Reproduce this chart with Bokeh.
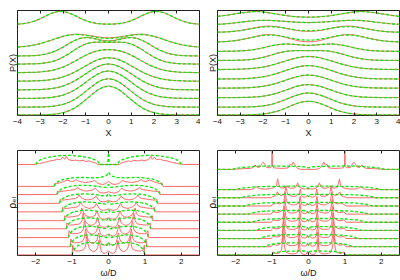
from bokeh.plotting import figure
from bokeh.layouts import column, row
from bokeh.models import Range1d, FixedTicker, LinearAxis
from bokeh.embed import file_html
from bokeh.resources import INLINE

# ---------------- data ----------------
# curves are symmetric in x; values below are read for x >= 0 and mirrored.
# heights are in frame units (frame height = 107.3), offsets stack the curves.

ticks_top = [-4, -3, -2, -1, 0, 1, 2, 3, 4]
ticks_bottom = [-2, -1, 0, 1, 2]

x_top_half = [0.0, 0.25, 0.5, 0.75, 1.0, 1.25, 1.5, 1.75, 2.0, 2.25, 2.5, 2.75, 3.0, 3.25, 3.5, 3.75, 4.0]

# top-left P(X), bottom -> top
tl_offsets = [0.6, 8.6, 17.5, 26.2, 35.1, 43.8, 52.6, 60.8, 69.5, 93.0]
tl_red = [
    [29.5, 28.3, 25.1, 20.5, 15.5, 10.8, 6.9, 4.1, 2.2, 1.1, 0.5, 0.2, 0.1, 0, 0, 0, 0],
    [29.0, 28.0, 25.0, 20.8, 16.1, 11.5, 7.7, 4.8, 2.7, 1.5, 0.7, 0.3, 0.1, 0.1, 0, 0, 0],
    [28.0, 27.1, 24.5, 20.8, 16.5, 12.2, 8.5, 5.5, 3.3, 1.9, 1.0, 0.5, 0.2, 0.1, 0, 0, 0],
    [26.5, 25.7, 23.5, 20.2, 16.4, 12.5, 9.0, 6.1, 3.9, 2.3, 1.3, 0.7, 0.3, 0.2, 0.1, 0, 0],
    [24.0, 23.4, 21.6, 18.9, 15.6, 12.3, 9.1, 6.5, 4.3, 2.7, 1.6, 0.9, 0.5, 0.3, 0.1, 0.1, 0],
    [23.5, 23.2, 22.2, 20.4, 17.8, 14.7, 11.4, 8.3, 5.7, 3.7, 2.2, 1.3, 0.7, 0.3, 0.2, 0.1, 0],
    [22.2, 22.3, 22.4, 22.0, 20.5, 17.8, 14.3, 10.5, 7.0, 4.2, 2.3, 1.2, 0.5, 0.2, 0.1, 0, 0],
    [15.5, 16.0, 17.3, 18.6, 19.0, 18.1, 15.8, 12.6, 9.1, 6.0, 3.6, 1.9, 1.0, 0.4, 0.2, 0.1, 0],
    [9.9, 10.2, 10.9, 11.9, 12.8, 13.5, 13.6, 12.8, 11.4, 9.6, 7.6, 5.7, 4.0, 2.6, 1.6, 0.9, 0.5],
    [0.3, 0.5, 1.0, 2.1, 3.9, 6.5, 9.4, 11.9, 13.4, 13.2, 11.5, 8.8, 5.9, 3.5, 1.8, 0.8, 0.3],
]
tl_green = [
    [29.5, 28.3, 25.1, 20.5, 15.5, 10.8, 6.9, 4.1, 2.2, 1.1, 0.5, 0.2, 0.1, 0, 0, 0, 0],
    [29.0, 28.0, 25.0, 20.8, 16.1, 11.5, 7.7, 4.8, 2.7, 1.5, 0.7, 0.3, 0.1, 0.1, 0, 0, 0],
    [28.0, 27.1, 24.5, 20.8, 16.5, 12.2, 8.5, 5.5, 3.3, 1.9, 1.0, 0.5, 0.2, 0.1, 0, 0, 0],
    [26.5, 25.7, 23.5, 20.2, 16.4, 12.5, 9.0, 6.1, 3.9, 2.3, 1.3, 0.7, 0.3, 0.2, 0.1, 0, 0],
    [24.0, 23.4, 21.6, 18.9, 15.6, 12.3, 9.1, 6.5, 4.3, 2.7, 1.6, 0.9, 0.5, 0.3, 0.1, 0.1, 0],
    [23.5, 23.2, 22.2, 20.4, 17.8, 14.7, 11.4, 8.3, 5.7, 3.7, 2.2, 1.3, 0.7, 0.3, 0.2, 0.1, 0],
    [22.2, 22.3, 22.4, 22.0, 20.5, 17.8, 14.3, 10.5, 7.0, 4.2, 2.3, 1.2, 0.5, 0.2, 0.1, 0, 0],
    [15.0, 15.5, 16.9, 18.3, 18.8, 18.0, 15.8, 12.6, 9.1, 6.0, 3.6, 1.9, 1.0, 0.4, 0.2, 0.1, 0],
    [9.2, 9.5, 10.3, 11.5, 12.5, 13.2, 13.3, 12.6, 11.3, 9.6, 7.6, 5.7, 4.0, 2.6, 1.6, 0.9, 0.5],
    [0.3, 0.5, 1.0, 2.1, 3.9, 6.5, 9.4, 11.9, 13.4, 13.2, 11.5, 8.8, 5.9, 3.5, 1.8, 0.8, 0.3],
]

# top-right P(X), bottom -> top
tr_offsets = [0.6, 8.6, 18.3, 28.0, 37.3, 47.0, 56.3, 65.6, 75.0, 85.0, 93.0, 100.0]
tr_red = [
    [14.0, 13.4, 11.8, 9.5, 7.0, 4.7, 3.0, 1.7, 0.9, 0.4, 0.2, 0.1, 0, 0, 0, 0, 0],
    [14.4, 13.9, 12.3, 10.2, 7.8, 5.5, 3.6, 2.2, 1.2, 0.6, 0.3, 0.1, 0.1, 0, 0, 0, 0],
    [13.3, 12.8, 11.6, 9.7, 7.6, 5.6, 3.8, 2.4, 1.4, 0.8, 0.4, 0.2, 0.1, 0, 0, 0, 0],
    [13.3, 12.9, 11.7, 10.0, 8.1, 6.1, 4.3, 2.9, 1.8, 1.1, 0.6, 0.3, 0.1, 0.1, 0, 0, 0],
    [13.7, 13.3, 12.2, 10.6, 8.7, 6.7, 4.9, 3.4, 2.2, 1.4, 0.8, 0.4, 0.2, 0.1, 0.1, 0, 0],
    [13.3, 13.0, 12.0, 10.5, 8.8, 7.0, 5.2, 3.8, 2.5, 1.6, 1.0, 0.6, 0.3, 0.2, 0.1, 0, 0],
    [9.9, 10.0, 10.0, 9.8, 9.2, 8.0, 6.4, 4.7, 3.1, 1.9, 1.0, 0.5, 0.2, 0.1, 0, 0, 0],
    [6.1, 6.3, 6.8, 7.3, 7.5, 7.1, 6.2, 5.0, 3.6, 2.4, 1.4, 0.8, 0.4, 0.2, 0.1, 0, 0],
    [0.3, 0.6, 1.6, 3.2, 4.8, 6.3, 7.3, 7.7, 7.3, 6.2, 4.8, 3.5, 2.3, 1.4, 0.8, 0.4, 0.2],
    [1.0, 1.2, 1.8, 2.9, 4.1, 5.3, 6.1, 6.4, 6.1, 5.2, 4.0, 2.9, 1.9, 1.1, 0.6, 0.3, 0.2],
    [2.0, 2.1, 2.3, 2.7, 3.1, 3.5, 3.9, 4.2, 4.3, 4.1, 3.6, 3.0, 2.3, 1.6, 1.0, 0.5, 0.2],
    [0.5, 0.6, 0.9, 1.4, 2.1, 3.0, 4.0, 5.0, 5.8, 6.3, 6.1, 5.5, 4.7, 3.8, 2.9, 2.0, 1.3],
]
tr_green = [
    [14.0, 13.4, 11.8, 9.5, 7.0, 4.7, 3.0, 1.7, 0.9, 0.4, 0.2, 0.1, 0, 0, 0, 0, 0],
    [14.4, 13.9, 12.3, 10.2, 7.8, 5.5, 3.6, 2.2, 1.2, 0.6, 0.3, 0.1, 0.1, 0, 0, 0, 0],
    [13.3, 12.8, 11.6, 9.7, 7.6, 5.6, 3.8, 2.4, 1.4, 0.8, 0.4, 0.2, 0.1, 0, 0, 0, 0],
    [13.3, 12.9, 11.7, 10.0, 8.1, 6.1, 4.3, 2.9, 1.8, 1.1, 0.6, 0.3, 0.1, 0.1, 0, 0, 0],
    [13.7, 13.3, 12.2, 10.6, 8.7, 6.7, 4.9, 3.4, 2.2, 1.4, 0.8, 0.4, 0.2, 0.1, 0.1, 0, 0],
    [13.3, 13.0, 12.0, 10.5, 8.8, 7.0, 5.2, 3.8, 2.5, 1.6, 1.0, 0.6, 0.3, 0.2, 0.1, 0, 0],
    [9.9, 10.0, 10.0, 9.8, 9.2, 8.0, 6.4, 4.7, 3.1, 1.9, 1.0, 0.5, 0.2, 0.1, 0, 0, 0],
    [6.1, 6.3, 6.8, 7.3, 7.5, 7.1, 6.2, 5.0, 3.6, 2.4, 1.4, 0.8, 0.4, 0.2, 0.1, 0, 0],
    [2.0, 2.2, 2.9, 4.0, 5.2, 6.4, 7.1, 7.3, 6.9, 5.9, 4.7, 3.4, 2.3, 1.4, 0.8, 0.4, 0.2],
    [1.6, 1.8, 2.3, 3.2, 4.2, 5.1, 5.6, 5.8, 5.5, 4.7, 3.7, 2.7, 1.8, 1.1, 0.6, 0.3, 0.2],
    [2.0, 2.1, 2.3, 2.7, 3.1, 3.5, 3.9, 4.2, 4.3, 4.1, 3.6, 3.0, 2.3, 1.6, 1.0, 0.5, 0.2],
    [0.5, 0.6, 0.9, 1.4, 2.1, 3.0, 4.0, 5.0, 5.8, 6.3, 6.1, 5.5, 4.7, 3.8, 2.9, 2.0, 1.3],
]

# bottom-left rho_el(omega/D), bottom -> top, (x, y) for omega >= 0
bl_offsets = [0.6, 9.0, 18.3, 27.3, 35.6, 44.6, 53.3, 62.3, 70.6, 93.0]
bl_red_x = [
    [0, .05, .1, .16, .2, .23, .26, .3, .36, .42, .48, .53, .57, .6, .63, .68, .75, .82, .9, .95, .985, 1.0, 2.5],
    [0, .053, .105, .168, .21, .242, .273, .315, .378, .441, .504, .557, .599, .63, .662, .714, .788, .861, .945, .998, 1.034, 1.05, 2.5],
    [0, .055, .11, .176, .22, .253, .286, .33, .396, .462, .528, .583, .627, .66, .693, .748, .825, .902, .99, 1.045, 1.084, 1.1, 2.5],
    [0, .058, .116, .186, .232, .267, .302, .348, .418, .487, .557, .615, .661, .696, .731, .789, .87, .951, 1.044, 1.102, 1.143, 1.16, 2.5],
    [0, .061, .122, .195, .244, .281, .317, .366, .439, .512, .586, .647, .695, .732, .769, .83, .915, 1.0, 1.098, 1.159, 1.202, 1.22, 2.5],
    [0, .064, .128, .205, .256, .294, .333, .384, .461, .538, .614, .678, .73, .768, .806, .87, .96, 1.05, 1.152, 1.216, 1.26, 1.28, 2.5],
    [0, .068, .135, .216, .27, .31, .351, .405, .486, .567, .648, .716, .77, .81, .851, .918, 1.013, 1.107, 1.215, 1.283, 1.33, 1.35, 2.5],
    [0, .071, .142, .227, .284, .327, .369, .426, .511, .596, .682, .753, .809, .852, .895, .966, 1.065, 1.164, 1.278, 1.349, 1.399, 1.42, 2.5],
    [0, .075, .15, .24, .3, .345, .39, .45, .54, .63, .72, .795, .855, .9, .945, 1.02, 1.125, 1.23, 1.35, 1.425, 1.478, 1.5, 2.5],
    [0, .3, .35, .45, .55, .62, .7, .8, .9, 1.0, 1.1, 1.16, 1.2, 1.26, 1.32, 1.42, 1.5, 1.6, 1.7, 1.8, 1.9, 2.0, 2.05, 2.5],
]
bl_red_y = [
    [4, 2.5, 1.5, 2, 4, 9, 15, 7, 4, 3.5, 4.5, 7, 12, 19, 9, 5.5, 4.5, 4, 4, 5, 10, 0, 0],
    [3.5, 2.5, 1.5, 2, 4, 8.5, 14, 7, 4, 3.5, 4.5, 7, 12, 18, 9, 5.5, 4.5, 4, 4, 4.5, 8, 0, 0],
    [3.5, 2.5, 1.5, 2, 4, 8, 13, 6.5, 4, 3.5, 4.5, 7, 11, 17, 8.5, 5.5, 4.5, 4, 4, 4.5, 7, 0, 0],
    [3, 2, 1.5, 2, 3.5, 7, 12, 6, 4, 3.5, 4.5, 6.5, 10, 16, 8, 5, 4.5, 4, 3.8, 4, 6, 0, 0],
    [3, 2, 1.5, 2, 3.5, 6.5, 10, 5.5, 4, 3.5, 4.5, 6, 9, 13, 7, 5, 4.5, 4, 3.6, 3.8, 5, 0, 0],
    [3, 2, 1.5, 2, 3.5, 6, 8.5, 5, 4, 3.5, 4.5, 5.5, 7.5, 10, 6.5, 5, 4.5, 4, 3.5, 3.5, 4.5, 0, 0],
    [3, 2, 1.5, 2, 3.5, 5.5, 7.5, 5, 4, 3.5, 4, 5, 6.5, 8.5, 6, 5, 4.5, 4, 3.5, 3.3, 4, 0, 0],
    [3, 2, 1.5, 2, 3.2, 5, 6.5, 4.8, 4, 3.5, 4, 4.8, 6, 7.5, 5.5, 4.8, 4.3, 3.8, 3.3, 3, 3.5, 0, 0],
    [5, 3, 2, 2.5, 3.5, 5, 6, 5, 4.5, 4, 4.5, 5, 6, 7, 5.5, 5, 6.5, 5, 3.5, 3, 3, 0, 0],
    [0, 0, 1.5, 2.5, 3.8, 3.0, 4.2, 3.6, 4.5, 4.0, 5.0, 8.3, 5.2, 7.5, 4.8, 5.5, 4.2, 3.8, 2.6, 1.8, 1.0, 0.3, 0, 0],
]
bl_green_x = [
    [0, .04, .15, .3, .5, .65, .8, .9, .96, 1.0],
    [0, .042, .158, .315, .525, .683, .84, .945, 1.008, 1.05],
    [0, .044, .165, .33, .55, .715, .88, .99, 1.056, 1.1],
    [0, .046, .174, .348, .58, .754, .928, 1.044, 1.114, 1.16],
    [0, .049, .183, .366, .61, .793, .976, 1.098, 1.171, 1.22],
    [0, .051, .192, .384, .64, .832, 1.024, 1.152, 1.229, 1.28],
    [0, .054, .203, .405, .675, .878, 1.08, 1.215, 1.296, 1.35],
    [0, .057, .213, .426, .71, .923, 1.136, 1.278, 1.363, 1.42],
    [0, .06, .225, .45, .75, .975, 1.2, 1.35, 1.44, 1.5],
    [0, .02, .24, .3, .4, .55, .75, 1.0, 1.12, 1.3, 1.5, 1.7, 1.85, 1.95, 2.0],
]
bl_green_y = [
    [13, 9.8, 10.4, 12, 12.6, 12.1, 10.4, 7.8, 4.9, 0],
    [12.5, 9.4, 10, 11.5, 12.1, 11.6, 10, 7.5, 4.8, 0],
    [12, 9, 9.6, 11, 11.6, 11.2, 9.6, 7.2, 4.6, 0],
    [11.5, 8.6, 9.2, 10.6, 11.2, 10.7, 9.2, 6.9, 4.4, 0],
    [11, 8.3, 8.8, 10.1, 10.7, 10.2, 8.8, 6.6, 4.2, 0],
    [10.5, 7.9, 8.4, 9.7, 10.2, 9.8, 8.4, 6.3, 4.0, 0],
    [10, 7.5, 8, 9.2, 9.7, 9.3, 8, 6, 3.8, 0],
    [10.5, 7.4, 7.8, 9, 9.5, 9.1, 7.8, 5.9, 3.7, 0],
    [14.5, 11, 9, 8.8, 9.2, 8.8, 7.6, 5.7, 3.6, 0],
    [17, 0, 0, 3.4, 5.3, 7.1, 8.4, 9.2, 9.3, 9.1, 8.4, 7.0, 5.2, 3.1, 0],
]

# bottom-right rho_el(omega/D), bottom -> top
br_offsets = [0.6, 9.0, 17.3, 25.6, 34.0, 42.3, 50.6, 59.0, 67.3, 88.0]
br_red_x = [
    [0, .03, .06, .1, .18, .23, .26, .29, .35, .45, .55, .62, .66, .7, .74, .8, .9, .97, 1.0, 1.03, 2.5],
    [0, .03, .06, .1, .18, .225, .255, .285, .35, .45, .55, .615, .655, .69, .73, .8, .9, .97, 1.0, 1.03, 2.5],
    [0, .03, .06, .1, .18, .22, .25, .28, .35, .45, .55, .61, .645, .68, .72, .8, .9, .97, 1.0, 1.03, 2.5],
    [0, .03, .06, .1, .18, .215, .245, .275, .35, .45, .55, .6, .635, .67, .71, .8, .9, .97, 1.0, 1.03, 2.5],
    [0, .03, .06, .1, .17, .21, .24, .27, .35, .45, .55, .59, .625, .66, .7, .8, .9, .97, 1.0, 1.03, 2.5],
    [0, .03, .06, .1, .17, .205, .235, .265, .35, .45, .55, .58, .615, .65, .69, .8, .9, .97, 1.0, 1.03, 2.5],
    [0, .03, .06, .1, .165, .2, .23, .26, .35, .45, .5, .57, .605, .64, .68, .8, .88, .95, 1.0, 1.03, 2.5],
    [0, .03, .06, .1, .16, .2, .225, .255, .3, .35, .45, .55, .585, .62, .66, .75, .82, .86, .9, 1.0, 1.03, 2.5],
    [0, .05, .1, .2, .26, .3, .34, .4, .5, .56, .6, .64, .7, .78, .82, .85, .88, .95, 1.05, 1.2, 1.35, 1.45, 1.5, 1.6, 2.5],
    [0, .2, .3, .35, .38, .42, .46, .5, .56, .7, .85, .95, .99, 1.0, 1.01, 1.05, 1.15, 1.2, 1.24, 1.28, 1.33, 1.4, 1.47, 1.52, 1.6, 1.75, 1.9, 2.1, 2.5],
]
br_red_y = [
    [1, 3.5, 1, .5, 1, 4, 16, 3, 1.5, 1, 1.5, 3, 8, 22, 5, 2, 1.5, 3, 1, 0, 0],
    [1, 3.5, 1, .5, 1, 4, 15, 3, 1.5, 1, 1.5, 3, 8, 20, 5, 2, 1.5, 2.5, 1, 0, 0],
    [1, 3.2, 1, .5, 1, 4, 14, 3, 1.5, 1, 1.5, 3, 7, 19, 5, 2, 1.5, 2.5, 1, 0, 0],
    [1, 3, 1, .5, 1, 4, 13, 3, 1.5, 1, 1.5, 3, 7, 18, 5, 2, 1.5, 2.5, 1, 0, 0],
    [1, 3, 1, .5, 1, 3.5, 12, 3, 1.5, 1, 1.5, 3, 6.5, 16, 4.5, 2, 1.5, 2.5, 1, 0, 0],
    [1, 3, 1, .5, 1, 3.5, 11, 3, 1.5, 1, 1.5, 3, 6, 15, 4.5, 2, 1.5, 2.5, 1, 0, 0],
    [1, 2.8, 1, .5, 1, 3, 10, 3, 1.5, 1, 2, 3, 5.5, 14, 4, 2, 3, 2, 1, 0, 0],
    [1, 2.5, 1, .5, 1, 3, 9, 3, 4, 1.5, 1.5, 3, 5, 12, 4, 2, 4, 6, 2, 1, 0, 0],
    [.5, 1, .5, 1.5, 3, 7, 3, 1.5, 1.5, 2.5, 4, 2.5, 1.5, 2, 6, 11, 4, 2, 1, .5, 1, 3, 1, 0, 0],
    [0, 0, .8, 3, 5, 7.5, 4, 5.5, 1.5, 1, 1.2, 1.5, 3, 30, 3, 1.5, 2, 5, 7.5, 6, 2.5, 2, 4.5, 2, 1, .8, .5, 0, 0],
]
br_green_x = [
    [0, .032, .105, .315, .525, .735, .893, .998, 1.05, 2.5],
    [0, .036, .12, .36, .6, .84, 1.02, 1.14, 1.2, 2.5],
    [0, .041, .135, .405, .675, .945, 1.148, 1.283, 1.35, 2.5],
    [0, .044, .145, .435, .725, 1.015, 1.233, 1.378, 1.45, 2.5],
    [0, .047, .155, .465, .775, 1.085, 1.318, 1.473, 1.55, 2.5],
    [0, .05, .165, .495, .825, 1.155, 1.403, 1.568, 1.65, 2.5],
    [0, .053, .175, .525, .875, 1.225, 1.488, 1.663, 1.75, 2.5],
    [0, .056, .185, .555, .925, 1.295, 1.573, 1.758, 1.85, 2.5],
    [0, .06, .2, .6, 1.0, 1.4, 1.7, 1.9, 2.0, 2.5],
    [0, .1, .3, .6, 1.0, 1.4, 1.8, 2.0, 2.1, 2.5],
]
br_green_y = [
    [1.2, 3.6, 4.0, 4.0, 3.8, 3.4, 2.4, 1.2, 0, 0],
    [1.2, 3.6, 4.0, 4.0, 3.8, 3.4, 2.4, 1.2, 0, 0],
    [1.2, 3.5, 4.0, 4.0, 3.8, 3.4, 2.4, 1.2, 0, 0],
    [1.2, 3.5, 3.9, 3.9, 3.7, 3.3, 2.3, 1.2, 0, 0],
    [1.1, 3.4, 3.8, 3.8, 3.6, 3.2, 2.3, 1.1, 0, 0],
    [1.1, 3.3, 3.7, 3.7, 3.5, 3.1, 2.2, 1.1, 0, 0],
    [1.1, 3.3, 3.6, 3.6, 3.4, 3.1, 2.2, 1.1, 0, 0],
    [1.0, 3.2, 3.5, 3.5, 3.3, 3.0, 2.1, 1.0, 0, 0],
    [1.0, 3.2, 3.5, 3.5, 3.3, 3.0, 2.1, 1.0, 0, 0],
    [1.5, 2.5, 3.0, 3.2, 3.5, 3.2, 2.0, 1.0, 0, 0],
]

# ---------------- styling ----------------
Y_TOP = 107.3
RED = "#ff6a6a"
GREEN = "#00ee00"
FONT = "Liberation Sans"
TXT = "#111111"


def mirror(xh, yh):
    xs = [-v for v in reversed(xh[1:])] + list(xh)
    ys = list(reversed(yh[1:])) + list(yh)
    return xs, ys


def add_rows(p, xh_list, yh_list, offsets, color, dash, width):
    for xh, yh, off in zip(xh_list, yh_list, offsets):
        xs, ys = mirror(xh, yh)
        p.line(xs, [off + v for v in ys], line_color=color, line_width=width, line_dash=dash)


def make_panel(width, height, xr, ticks, xlabel, ylabel, borders, ylabel_font=FONT, ylabel_size="9px"):
    l, r, t, b = borders
    p = figure(width=width, height=height, x_range=Range1d(*xr), y_range=Range1d(0, Y_TOP),
               output_backend="svg", toolbar_location=None,
               min_border_left=l, min_border_right=r, min_border_top=t, min_border_bottom=b)
    p.background_fill_color = "white"
    p.border_fill_color = "white"
    p.grid.visible = False
    p.outline_line_color = "#222222"
    p.outline_line_width = 1

    xa = p.xaxis[0]
    xa.ticker = FixedTicker(ticks=ticks)
    xa.axis_line_color = None
    xa.major_tick_in = 3
    xa.major_tick_out = 0
    xa.major_tick_line_color = "#222222"
    xa.minor_tick_line_color = None
    xa.major_label_text_font = FONT
    xa.major_label_text_font_size = "8px"
    xa.major_label_text_color = TXT
    xa.major_label_standoff = 3
    xa.axis_label = xlabel
    xa.axis_label_text_font = FONT
    xa.axis_label_text_font_size = "9px"
    xa.axis_label_text_font_style = "normal"
    xa.axis_label_text_color = TXT
    xa.axis_label_standoff = 1

    ya = p.yaxis[0]
    ya.ticker = FixedTicker(ticks=[])
    ya.axis_line_color = None
    ya.major_tick_line_color = None
    ya.minor_tick_line_color = None
    ya.major_label_standoff = 0
    ya.axis_label = ylabel
    ya.axis_label_text_font = ylabel_font
    ya.axis_label_text_font_size = ylabel_size
    ya.axis_label_text_font_style = "normal"
    ya.axis_label_text_color = TXT
    ya.axis_label_standoff = 0

    top = LinearAxis(ticker=FixedTicker(ticks=ticks), axis_line_color=None,
                     major_tick_in=3, major_tick_out=0, major_tick_line_color="#222222",
                     minor_tick_line_color=None, major_label_standoff=0,
                     major_label_text_font_size="1px",
                     major_label_overrides={t: "" for t in ticks})
    p.add_layout(top, "above")
    return p


# page is 400 x 280 with no body margin in Bokeh's standalone template
p_tl = make_panel(200, 140, (-4, 4), ticks_top, "X", "P(X)", (17, 1, 10, 23))
p_tr = make_panel(200, 140, (-4, 4), ticks_top, "X", "P(X)", (17, 1, 10, 23))
p_bl = make_panel(200, 140, (-2.5, 2.5), ticks_bottom, "ω/D", "ρₑₗ", (17, 1, 10, 23), "DejaVu Sans", "10px")
p_br = make_panel(200, 140, (-2.5, 2.5), ticks_bottom, "ω/D", "ρₑₗ", (17, 1, 10, 23), "DejaVu Sans", "10px")

n_tl = len(tl_offsets)
add_rows(p_tl, [x_top_half] * n_tl, tl_red, tl_offsets, RED, "solid", 1)
add_rows(p_tl, [x_top_half] * n_tl, tl_green, tl_offsets, GREEN, "3 2", 1.3)

n_tr = len(tr_offsets)
add_rows(p_tr, [x_top_half] * n_tr, tr_red, tr_offsets, RED, "solid", 1)
add_rows(p_tr, [x_top_half] * n_tr, tr_green, tr_offsets, GREEN, "3 2", 1.3)

add_rows(p_bl, bl_red_x, bl_red_y, bl_offsets, RED, "solid", 1)
add_rows(p_bl, bl_green_x, bl_green_y, bl_offsets, GREEN, "3 2", 1.3)

add_rows(p_br, br_red_x, br_red_y, br_offsets, RED, "solid", 1)
add_rows(p_br, br_green_x, br_green_y, br_offsets, GREEN, "3 2", 1.3)

layout = column(row(p_tl, p_tr), row(p_bl, p_br))

open("out.html", "w").write(file_html(layout, INLINE))
